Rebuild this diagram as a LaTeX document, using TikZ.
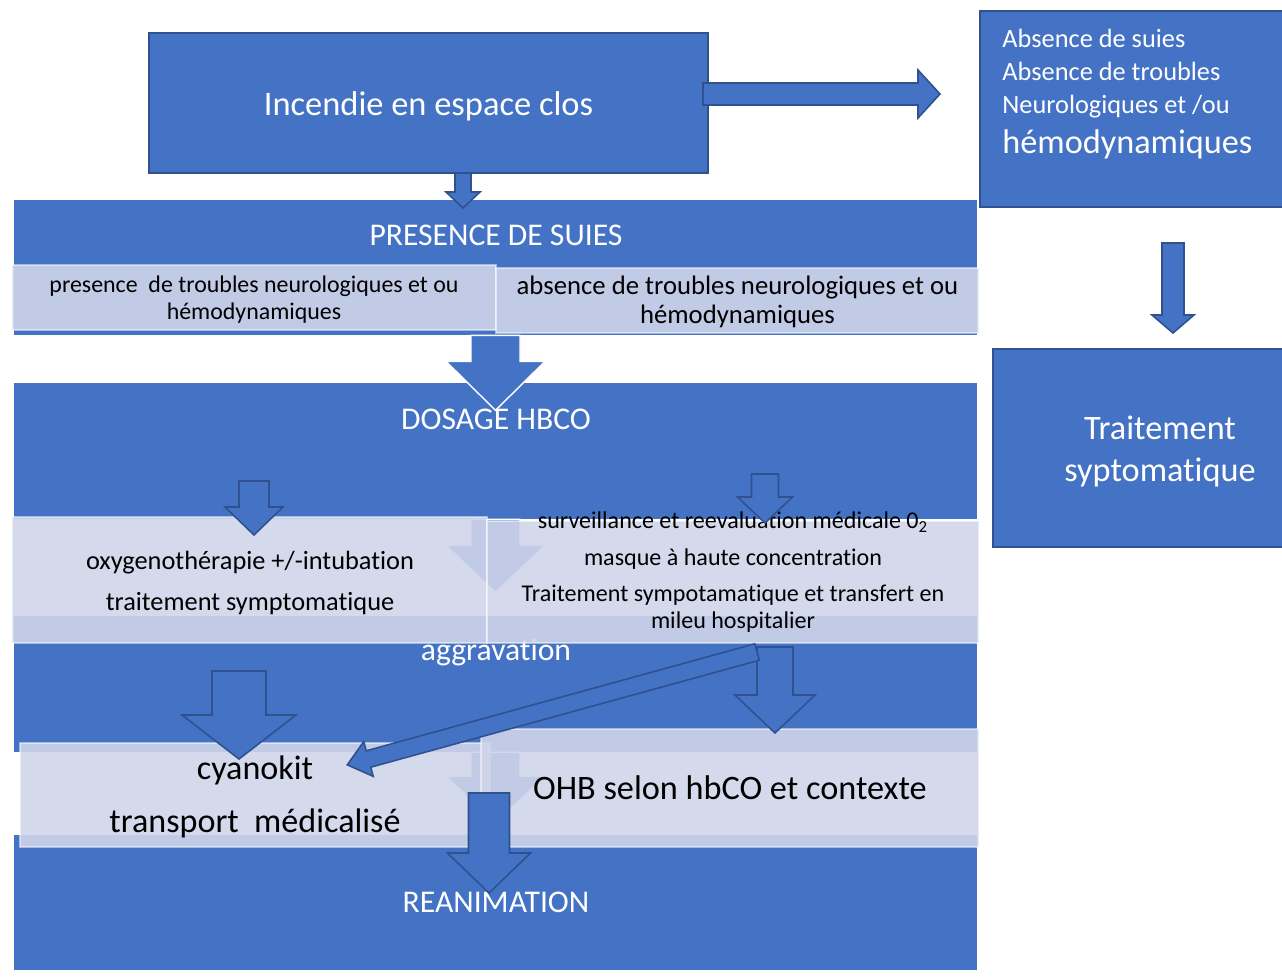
\documentclass[tikz,border=0pt]{standalone}
\usepackage{fontspec}
\setmainfont{Carlito}[Ligatures=NoCommon]
\usetikzlibrary{positioning}
\definecolor{bblue}{HTML}{4472C4}
\definecolor{bdark}{HTML}{2F528F}
\definecolor{bpale}{HTML}{CFD5EA}

\begin{document}
\begin{tikzpicture}[x=0.02cm,y=-0.02cm,
  box/.style={rectangle,draw=bdark,fill=bblue,line width=1.1pt,inner sep=0pt},
  band/.style={rectangle,fill=bblue,minimum width=19.26cm,inner sep=0pt},
  pale/.style={rectangle,fill=bpale,fill opacity=0.9,draw=white,draw opacity=0.5,line width=0.8pt,inner sep=0pt},
  title/.style={text=white,font=\fontsize{18}{22}\selectfont},
  boxtext/.style={text=white,align=center,inner sep=0pt},
  paletext/.style={align=center,inner sep=0pt},
  abstext/.style={anchor=base west,text=white,inner sep=0pt,font=\fontsize{15}{18}\selectfont},
  outarrow/.style={draw=bdark,fill=bblue,line width=0.9pt},
  procarrow/.style={draw=white,fill=bblue,line width=0.8pt},
  pics/blockarrow/.style n args={5}{code={
    \path[#1] (-#2,0) -- (#2,0) -- (#2,{#5-#4}) -- (#3,{#5-#4}) -- (0,#5)
      -- (-#3,{#5-#4}) -- (-#2,{#5-#4}) -- cycle;}},
]
\useasboundingbox (0,0) rectangle (1282,978);

% bandes
\node[band,minimum height=2.7cm]  (band1) at (495.5,267.5) {};
\node[band,minimum height=2.72cm] (band2) at (495.5,451) {};
\node[band,minimum height=2.72cm] (band3) at (495.5,684) {};
\node[band,minimum height=2.7cm]  (band4) at (495.5,902.5) {};

% fleches entre bandes
\pic at (band1.south) {blockarrow={procarrow}{24.5}{49.5}{49}{75}};
\pic at (band2.south) {blockarrow={procarrow}{24.5}{49.5}{47}{73}};
\pic at (band3.south) {blockarrow={procarrow}{24.5}{49.5}{46}{70}};

\node[title] (presence) at (496,235) {PRESENCE DE SUIES};
\node[title] (dosage) at (496,419) {DOSAGE HBCO};
\node[title] (aggrav) at (496,652) {aggravation};
\node[title] (reanim) at (496,902) {REANIMATION};

% cases claires
\node[pale,minimum width=9.68cm,minimum height=1.3cm] (neuro) at (254,297.5) {};
\node[pale,minimum width=9.66cm,minimum height=1.3cm] (noneuro) at (737.5,300.5) {};
\node[pale,minimum width=9.5cm,minimum height=2.52cm] (oxy) at (249.5,580) {};
\node[pale,minimum width=9.84cm,minimum height=2.44cm] (surv) at (733,582) {};
\node[pale,minimum width=9.4cm,minimum height=2.08cm] (cyano) at (255,795) {};
\node[pale,minimum width=9.96cm,minimum height=2.36cm] (ohb) at (730,788) {};

\node[paletext,font=\fontsize{13.6}{15.3}\selectfont] (neurotext) at (254,299.5)
  {presence\ \ de troubles neurologiques et ou\\hémodynamiques};
\node[paletext,font=\fontsize{15.2}{16.5}\selectfont] (noneurotext) at (737.5,302)
  {absence de troubles neurologiques et ou\\hémodynamiques};
\node[paletext,font=\fontsize{15}{23.3}\selectfont] (oxytext) at (250,583)
  {oxygenothérapie +/-intubation\\traitement symptomatique};
\node[paletext,font=\fontsize{13.7}{15.4}\selectfont] (survtext) at (733,572)
  {surveillance et reevaluation médicale 0\textsubscript{2}\\[5.5pt]masque à haute concentration\\[5pt]
   Traitement sympotamatique et transfert en\\mileu hospitalier};
\node[paletext,font=\fontsize{19.4}{30}\selectfont] (cyanotext) at (255,797)
  {cyanokit\\transport\ \ médicalisé};
\node[paletext,font=\fontsize{19.5}{23}\selectfont] (ohbtext) at (730,788)
  {OHB selon hbCO et contexte};

% cases du haut et de droite
\node[box,minimum width=11.18cm,minimum height=2.8cm] (incendie) at (428.5,103) {};
\node[boxtext,font=\fontsize{19.6}{23}\selectfont] (incendietext) at (428.5,106)
  {Incendie en espace clos};
\node[box,minimum width=6.6cm,minimum height=3.92cm] (absence) at (1145,109) {};
\node[abstext] (abs1) at (1002,47) {Absence de suies};
\node[abstext] (abs2) at (1002,80) {Absence de troubles};
\node[abstext] (abs3) at (1002,113) {Neurologiques et /ou};
\node[abstext,font=\fontsize{19.5}{23}\selectfont] (abs4) at (1002,153) {hémodynamiques};
\node[box,minimum width=6.68cm,minimum height=3.96cm] (traitement) at (1160,448) {};
\node[boxtext,font=\fontsize{19.5}{23.9}\selectfont] (traitementtext) at (1160,451)
  {Traitement\\syptomatique};

% fleches
\pic at (463,173) {blockarrow={outarrow}{8}{17}{16}{35}};
\pic[rotate=90] at (703,94) {blockarrow={outarrow}{11}{24}{22}{237}};
\pic at (1173,243) {blockarrow={outarrow}{11}{21}{18}{90}};
\pic at (254,481) {blockarrow={outarrow}{15}{29}{28}{54}};
\pic at (765,474) {blockarrow={outarrow}{13.5}{27.5}{26}{49}};
\pic at (239,671) {blockarrow={outarrow}{27}{57}{44}{88}};
\pic at (775,647) {blockarrow={outarrow}{18}{40}{38}{86}};
\pic[rotate=-74.6] at (757,652) {blockarrow={outarrow}{8.5}{18}{22}{425}};
\pic at (489,793) {blockarrow={outarrow}{20.5}{41.5}{40}{100}};
\end{tikzpicture}
\end{document}
